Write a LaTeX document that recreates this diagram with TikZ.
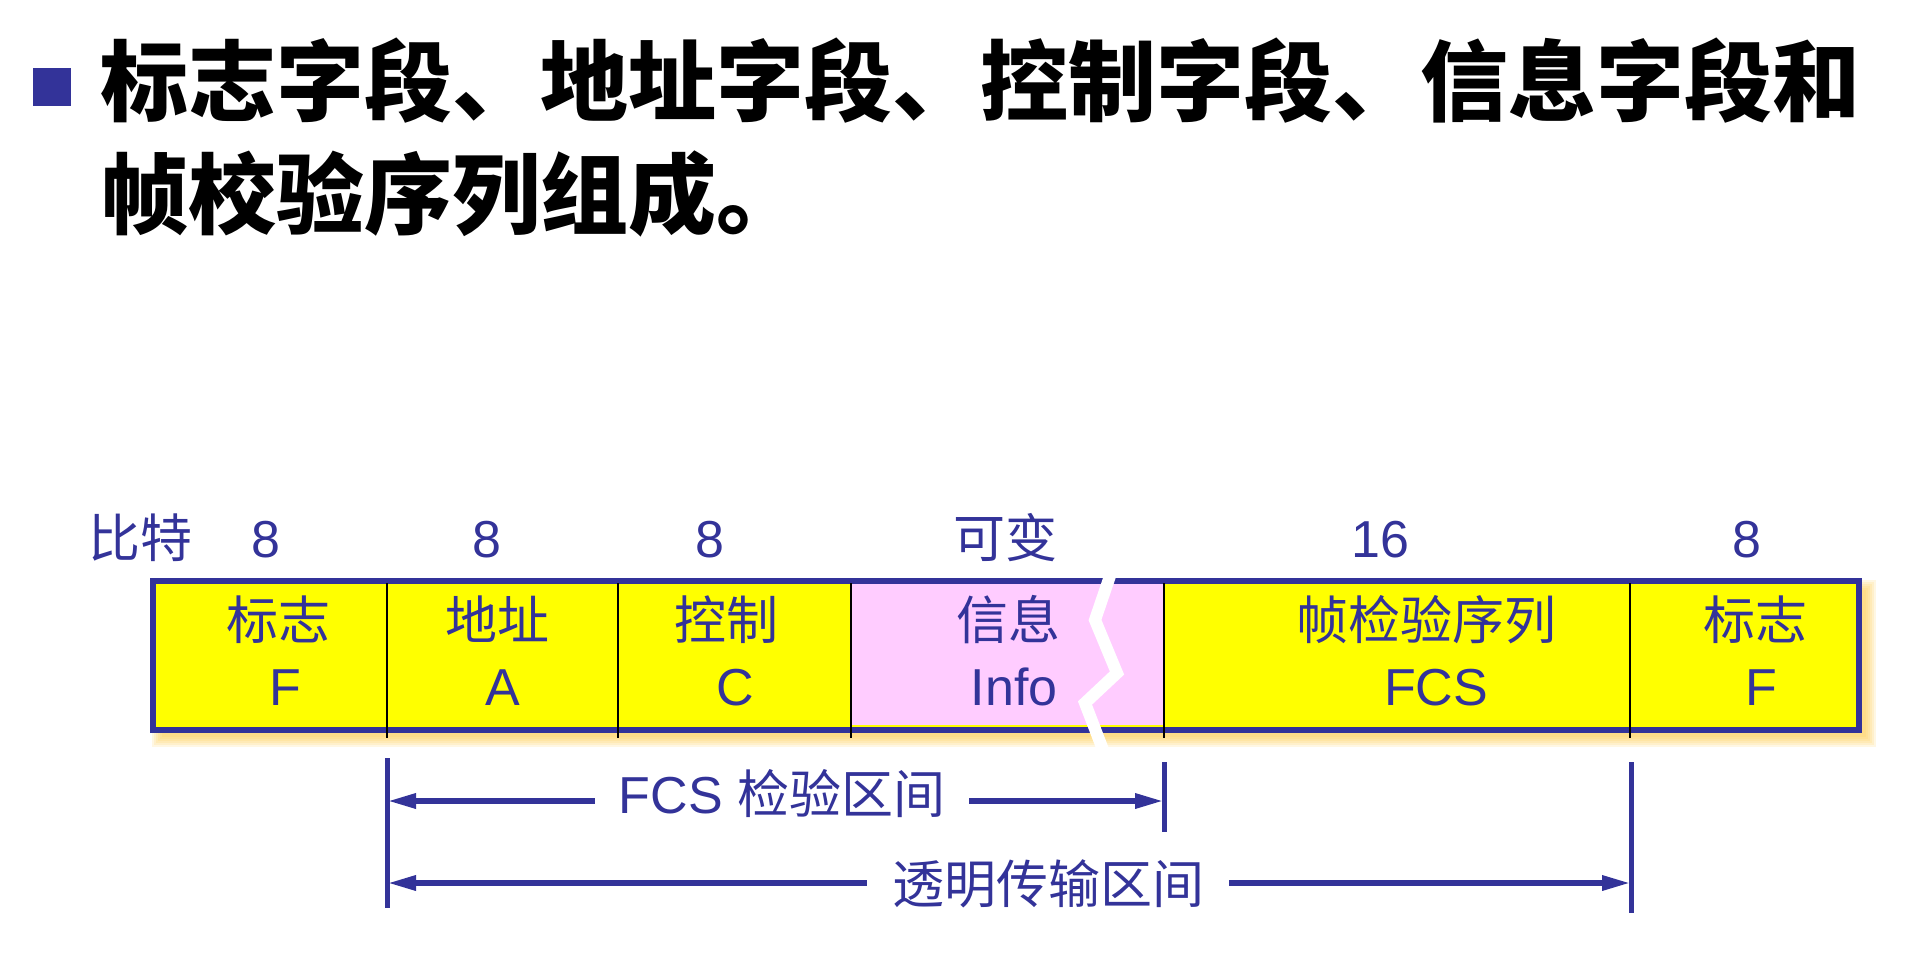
\documentclass[tikz,border=0pt]{standalone}
\usepackage{fontspec}
\setmainfont{Liberation Sans}
\newfontfamily\cjk{Noto Sans CJK SC}
\usetikzlibrary{arrows.meta, calc}

\definecolor{hdlcblue}{HTML}{333399}
\definecolor{hdlcyellow}{HTML}{FFFF00}
\definecolor{hdlcpink}{HTML}{FFCCFF}
\definecolor{hdlcshadow}{HTML}{FFC840}

\begin{document}
\begin{tikzpicture}[x=1pt, y=-1pt, line join=miter,
    titletext/.style={anchor=base west, inner sep=0pt,
        font=\cjk\bfseries\fontsize{88}{100}\selectfont},
    bluetext/.style={anchor=base, inner sep=0pt, text=hdlcblue,
        font=\fontsize{52}{62}\selectfont},
    divider/.style={black, line width=2.5pt},
    tick/.style={hdlcblue, line width=5pt},
    span/.style={hdlcblue, line width=6pt, -{Triangle[length=29pt, width=14pt]}}]

    \useasboundingbox (0,0) rectangle (1925,961);

    % Título con viñeta
    \fill[hdlcblue] (33,68) rectangle (71,106);
    \node[titletext] (title1) at (100,114) {标志字段、地址字段、控制字段、信息字段和};
    \node[titletext] (title2) at (100,227) {帧校验序列组成。};

    % Sombra de la trama
    \foreach \r in {0,2,...,10}
        \fill[hdlcshadow, opacity=0.15] ({152+\r},{580+\r}) rectangle ({1876-\r},{747-\r});

    % Campos de la trama
    \fill[hdlcyellow] (150,578) rectangle (1862,733);
    \fill[hdlcpink] (852,581) rectangle (1164,725);
    \draw[hdlcblue, line width=6pt] (153,581) rectangle (1859,730);

    \foreach \x in {387,618,851,1164,1630}
        \draw[divider] (\x,583) -- (\x,738);

    % Corte del campo de información
    \draw[white, line width=12pt] (1112,570) -- (1095,620) -- (1117,673)
        -- (1085,703) -- (1105,755);

    % Longitudes en bits
    \node[bluetext] (bits) at (140,557) {\cjk 比特};
    \node[bluetext] (len1) at (266,557) {8};
    \node[bluetext] (len2) at (487,557) {8};
    \node[bluetext] (len3) at (710,557) {8};
    \node[bluetext] (len4) at (1005,557) {\cjk 可变};
    \node[bluetext] (len5) at (1380,557) {16};
    \node[bluetext] (len6) at (1747,557) {8};

    % Nombres de los campos
    \node[bluetext] (flagA) at (278,639) {\cjk 标志};
    \node[bluetext] (flagAsym) at (285,705) {F};
    \node[bluetext] (addr) at (497,639) {\cjk 地址};
    \node[bluetext] (addrsym) at (503,705) {A};
    \node[bluetext] (ctrl) at (726,639) {\cjk 控制};
    \node[bluetext] (ctrlsym) at (735,705) {C};
    \node[bluetext] (info) at (1008,639) {\cjk 信息};
    \node[bluetext] (infosym) at (1014,705) {Info};
    \node[bluetext] (fcs) at (1426,639) {\cjk 帧检验序列};
    \node[bluetext] (fcssym) at (1436,705) {FCS};
    \node[bluetext] (flagB) at (1755,639) {\cjk 标志};
    \node[bluetext] (flagBsym) at (1761,705) {F};

    % Marcas de los intervalos
    \coordinate (fcsL) at (387,801);
    \coordinate (fcsR) at (1164,801);
    \coordinate (trL) at (387,883);
    \coordinate (trR) at (1631,883);
    \draw[tick] (387,758) -- (387,908);
    \draw[tick] (1164,762) -- (1164,832);
    \draw[tick] (1631,762) -- (1631,913);

    % Intervalo de verificación FCS
    \node[bluetext, inner xsep=24pt] (fcsrange) at (782,813) {FCS {\cjk 检验区间}};
    \draw[span] (fcsrange.west |- fcsL) -- (fcsL);
    \draw[span] (fcsrange.east |- fcsR) -- (fcsR);

    % Intervalo de transmisión transparente
    \node[bluetext, inner xsep=25pt] (trrange) at (1048,903) {\cjk 透明传输区间};
    \draw[span] (trrange.west |- trL) -- (trL);
    \draw[span] (trrange.east |- trR) -- (trR);

\end{tikzpicture}
\end{document}
